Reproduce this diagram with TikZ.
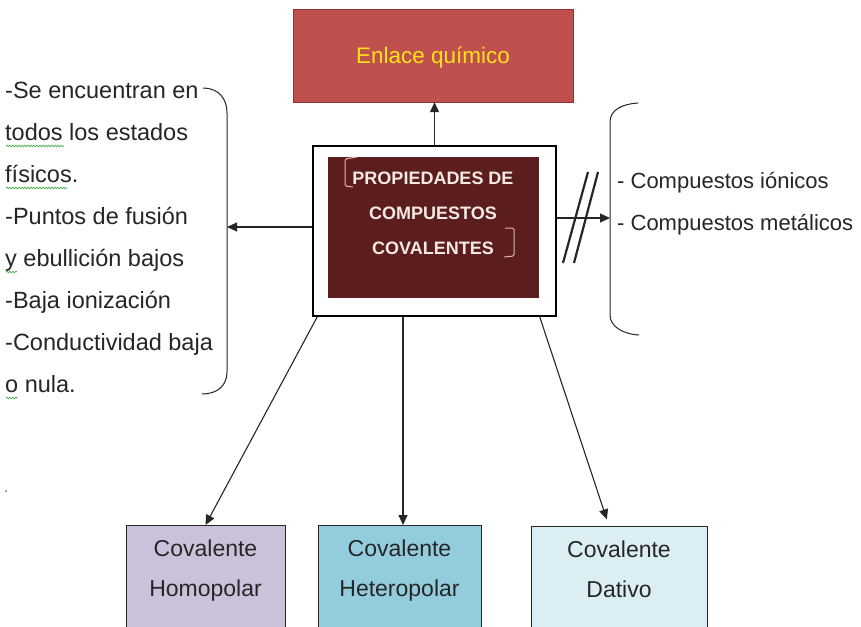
\documentclass[tikz,border=0pt]{standalone}
\usepackage{fontspec}
\setmainfont{Liberation Sans}
\usetikzlibrary{arrows.meta,positioning,decorations.pathmorphing}
\definecolor{enlacefill}{HTML}{C0504D}
\definecolor{enlacedraw}{HTML}{8C3533}
\definecolor{enlacetext}{HTML}{FFE21A}
\definecolor{propfill}{HTML}{5B1D1E}
\definecolor{proptext}{HTML}{F4EAE0}
\definecolor{propbracket}{HTML}{E6B5AE}
\definecolor{homofill}{HTML}{CCC1DA}
\definecolor{heterofill}{HTML}{93CDDD}
\definecolor{dativofill}{HTML}{DBEEF4}
\definecolor{inkline}{HTML}{262626}
\definecolor{spellmark}{HTML}{4CAF50}
\tikzset{
  arr/.style={-{Triangle[length=10pt,width=9pt]}, line width=1.1pt, draw=inkline},
  bodytext/.style={text=inkline, inner sep=0pt, align=left, anchor=north west},
  subbox/.style={draw=inkline, line width=1pt, minimum width=#1,
                 minimum height=130pt, anchor=north, inner sep=0pt},
  sublabel/.style={font=\fontsize{23}{40}\selectfont, text=inkline,
                   inner sep=0pt, align=center, anchor=north},
  bracemark/.style={line width=1pt, draw=inkline},
  propmark/.style={line width=1pt, draw=propbracket, rounded corners=1.5pt},
  spell/.style={draw=spellmark, line width=0.7pt, decorate,
                decoration={snake, amplitude=0.9pt, segment length=3pt}},
}

\begin{document}
\begin{tikzpicture}[x=1pt, y=-1pt]
    \clip (0,0) rectangle (861,626);
    \fill[white] (0,0) rectangle (861,626);
    % central block
    \node[draw=enlacedraw, fill=enlacefill, minimum width=280pt, minimum height=93pt,
          font=\fontsize{22.5}{26}\selectfont, text=enlacetext, text depth=0pt] (enlace) at (433,55.5) {Enlace químico};
    \node[draw=black, line width=1.3pt, minimum width=243pt, minimum height=170pt] (outer) at (434.5,231) {};
    \node[fill=propfill, minimum width=211pt, minimum height=141pt] (prop) at (433.5,227.5) {};
    \node[font=\bfseries\fontsize{18}{35}\selectfont, text=proptext, inner sep=0pt,
          align=center, anchor=north] (proplabel) at (433,172) {PROPIEDADES DE\\COMPUESTOS\\COVALENTES};
    \draw[propmark] (357,157) -- (345,159) -- (345,186) -- (353,187);
    \draw[propmark] (505,228) -- (514,228) -- (514,256) -- (504,257);
    % side lists
    \node[bodytext, font=\fontsize{23.5}{42}\selectfont] (props) at (5,82) {-Se encuentran en\\todos los estados\\físicos.\\-Puntos de fusión\\y ebullición bajos\\-Baja ionización\\-Conductividad baja\\o nula.};
    \node[bodytext, font=\fontsize{22}{42}\selectfont] (others) at (617,172) {- Compuestos iónicos\\- Compuestos metálicos};
    \draw[spell] (6,146) -- (64,146);
    \draw[spell] (6,188) -- (67,188);
    \draw[spell] (6,272) -- (17,272);
    \draw[spell] (6,398) -- (18,398);
    \fill[inkline!70] (6,491) circle (1pt);
    \draw[bracemark] (203,88) .. controls (218,88) and (227,98) .. (227,113) -- (227,372)
                     .. controls (227,385) and (218,394) .. (202,394);
    \draw[bracemark] (638,103) .. controls (622,104) and (610,110) .. (610,122) -- (610,315)
                     .. controls (610,326) and (622,334) .. (639,335);
    \coordinate (lbrace) at (227,227);
    \coordinate (rbrace) at (610,218);
    % bond types
    \node[subbox=159pt, fill=homofill] (homo) at (205.5,525) {};
    \node[subbox=163pt, fill=heterofill] (hetero) at (399.5,525) {};
    \node[subbox=176pt, fill=dativofill] (dativo) at (619,526) {};
    \node[sublabel, below=15pt of homo.north] (homolabel) {Covalente\\Homopolar};
    \node[sublabel, below=15pt of hetero.north] (heterolabel) {Covalente\\Heteropolar};
    \node[sublabel, below=15pt of dativo.north] (dativolabel) {Covalente\\Dativo};
    % connectors
    \draw[arr] (outer.north) -- (outer.north |- enlace.south);
    \draw[arr] (outer.west |- lbrace) -- (lbrace);
    \draw[arr] (outer.east |- rbrace) -- (rbrace);
    \draw[line width=2.2pt, inkline] (563,263) -- (588,172) (574,263) -- (598,172);
    \draw[arr] ([xshift=5pt]outer.south west) -- (homo.north);
    \draw[arr] ([xshift=3.5pt]hetero.north |- outer.south) -- ([xshift=3.5pt]hetero.north);
    \draw[arr, shorten >=7pt] ([xshift=-17pt]outer.south east) -- ([xshift=-10pt]dativo.north);
  \end{tikzpicture}
\end{document}
